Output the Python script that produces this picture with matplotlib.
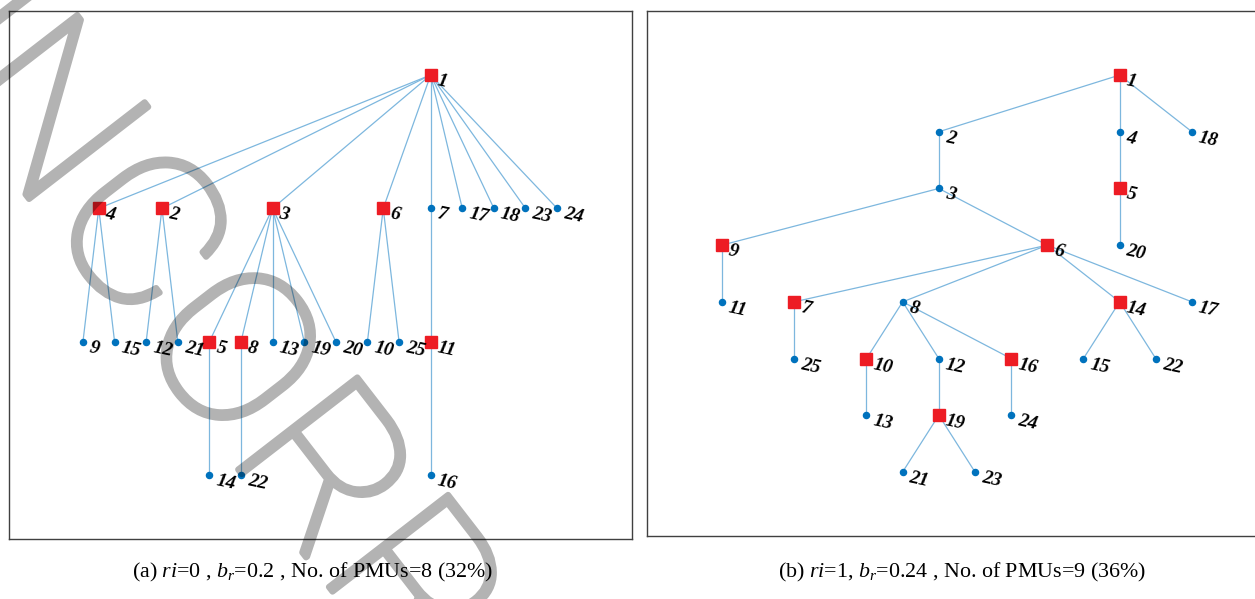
import matplotlib
matplotlib.use("Agg")
import matplotlib.pyplot as plt
from matplotlib.textpath import TextPath
from matplotlib.font_manager import FontProperties
from matplotlib.patches import PathPatch
from matplotlib.transforms import Affine2D

plt.rcParams['mathtext.fontset'] = 'custom'
plt.rcParams['mathtext.rm'] = 'Liberation Serif'
plt.rcParams['mathtext.it'] = 'Liberation Serif:italic'

# (a) ri=0 tree : node id, horizontal slot, tree level, parent (0 = root)
left_nodes = [1, 4, 2, 3, 6, 7, 17, 18, 23, 24,
              9, 15, 12, 21, 5, 8, 13, 19, 20, 10, 25, 11,
              14, 22, 16]
left_x = [11, 0.5, 2.5, 6, 9.5, 11, 12, 13, 14, 15,
          0, 1, 2, 3, 4, 5, 6, 7, 8, 9, 10, 11,
          4, 5, 11]
left_level = [1, 2, 2, 2, 2, 2, 2, 2, 2, 2,
              3, 3, 3, 3, 3, 3, 3, 3, 3, 3, 3, 3,
              4, 4, 4]
left_parent = [0, 1, 1, 1, 1, 1, 1, 1, 1, 1,
               4, 4, 2, 2, 3, 3, 3, 3, 3, 6, 6, 7,
               5, 8, 11]
left_pmu = [1, 4, 2, 3, 6, 5, 8, 11]

# (b) ri=1 tree
right_nodes = [1, 2, 4, 18, 3, 5, 9, 6, 20, 11, 7, 8, 14, 17,
               25, 10, 12, 16, 15, 22, 13, 19, 24, 21, 23]
right_x = [11, 6, 11, 13, 6, 11, 0, 9, 11, 0, 2, 5, 11, 13,
           2, 4, 6, 8, 10, 12, 4, 6, 8, 5, 7]
right_level = [1, 2, 2, 2, 3, 3, 4, 4, 4, 5, 5, 5, 5, 5,
               6, 6, 6, 6, 6, 6, 7, 7, 7, 8, 8]
right_parent = [0, 1, 1, 1, 2, 4, 3, 3, 5, 9, 6, 6, 6, 6,
                7, 8, 8, 8, 14, 14, 10, 12, 16, 19, 19]
right_pmu = [1, 5, 9, 6, 7, 14, 10, 16, 19]

captions = [r"(a) $ri$=0 , $b_r$=0.2 , No. of PMUs=8 (32%)",
            r"(b) $ri$=1, $b_r$=0.24 , No. of PMUs=9 (36%)"]

edge_color = '#7db7de'
node_color = '#0072bd'
pmu_color = '#ed1c24'

W, H = 1255, 599
fig = plt.figure(figsize=(W / 100, H / 100), dpi=100)


def draw_tree(ax, nodes, xs, levels, parents, pmus):
    pos = {n: (x, -lv) for n, x, lv in zip(nodes, xs, levels)}
    for n, p in zip(nodes, parents):
        if p == 0:
            continue
        ax.plot([pos[p][0], pos[n][0]], [pos[p][1], pos[n][1]],
                color=edge_color, lw=0.9, zorder=1)
    for n in nodes:
        x, y = pos[n]
        if n in pmus:
            ax.plot(x, y, 's', color=pmu_color, ms=8.6, mec=pmu_color, zorder=3)
        else:
            ax.plot(x, y, 'o', color=node_color, ms=4.4, zorder=2)
        ax.annotate(str(n), (x, y), xytext=(5, -4), textcoords='offset points',
                    ha='left', va='center', rotation=-12, rotation_mode='anchor',
                    fontsize=14, family='Liberation Serif', style='italic',
                    fontweight='bold', color='black', zorder=4)
    ax.set_xticks([])
    ax.set_yticks([])
    for s in ax.spines.values():
        s.set_color('#404040')
        s.set_linewidth(1.0)


# left panel
ax1 = fig.add_axes([9 / W, 1 - 539 / H, 623 / W, 528 / H])
draw_tree(ax1, left_nodes, left_x, left_level, left_parent, left_pmu)
ax1.set_xlim(-2.34, 17.37)
ax1.set_ylim(-4.48, -0.52)

# right panel (box runs off the right edge)
ax2 = fig.add_axes([647 / W, 1 - 536 / H, 610 / W, 525 / H])
draw_tree(ax2, right_nodes, right_x, right_level, right_parent, right_pmu)
ax2.set_xlim(-2.07, 14.8)
ax2.set_ylim(-9.13, 0.13)

fig.text(313 / W, 1 - 572 / H, captions[0], ha='center', va='center',
         fontsize=15.8, family='Liberation Serif')
fig.text(962 / W, 1 - 572 / H, captions[1], ha='center', va='center',
         fontsize=15.8, family='Liberation Serif')


# proof watermark over the left panel: drawn opaque, then faded as one layer
def fade(img, dpi):
    img = img.copy()
    img[..., 3] *= 0.3
    return img, 0, 0


wm = TextPath((0, 0), "UNCORRECTED PROOF", size=212,
              prop=FontProperties(family='Roboto', weight='light'))
wm_patch = PathPatch(wm, facecolor='black', edgecolor='black', lw=4.3,
                     joinstyle='round', capstyle='round', zorder=10,
                     transform=Affine2D().scale(1.07, 1.0).rotate_deg(-52.3)
                     .translate(-148, H + 30))
wm_patch.set_agg_filter(fade)
fig.add_artist(wm_patch)

fig.savefig("out.png", dpi=100)
